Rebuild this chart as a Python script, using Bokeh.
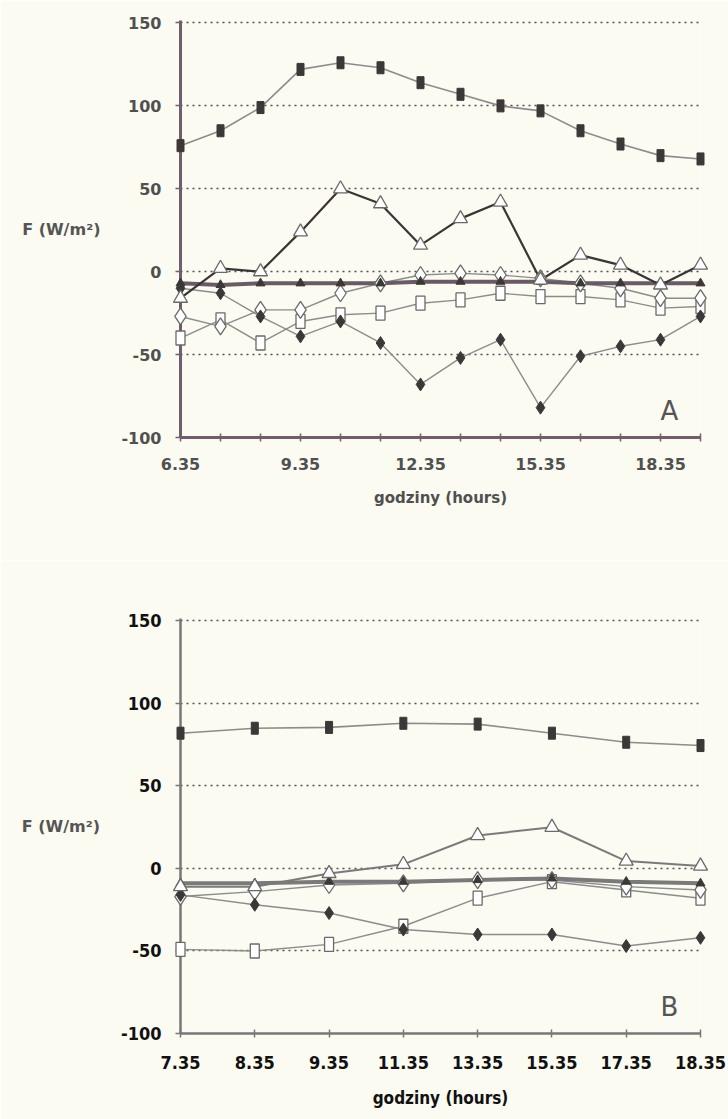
from bokeh.plotting import figure
from bokeh.models import FixedTicker, Range1d, Label
from bokeh.layouts import column
from bokeh.embed import file_html
from bokeh.resources import INLINE

# ---------------- data ----------------
hours_a = ["6.35", "7.35", "8.35", "9.35", "10.35", "11.35", "12.35",
           "13.35", "14.35", "15.35", "16.35", "17.35", "18.35", "19.35"]
shown_a = ["6.35", "9.35", "12.35", "15.35", "18.35"]

a_sq_filled = [76, 85, 99, 122, 126, 123, 114, 107, 100, 97, 85, 77, 70, 68]
a_tri_open = [-16, 2, 0, 24, 50, 41, 16, 32, 42, -5, 10, 4, -8, 4]
a_tri_filled = [-7, -8, -7, -7, -7, -7, -6, -6, -6, -6, -7, -7, -7, -7]
a_dia_open = [-27, -33, -23, -23, -13, -7, -2, -1, -2, -4, -7, -10, -16, -16]
a_sq_open = [-40, -29, -43, -30, -26, -25, -19, -17, -13, -15, -15, -17, -22, -21]
a_dia_filled = [-10, -13, -27, -39, -30, -43, -68, -52, -41, -82, -51, -45, -41, -27]

hours_b = ["7.35", "8.35", "9.35", "11.35", "13.35", "15.35", "17.35", "18.35"]
b_sq_filled = [82, 85, 85.5, 88, 87.5, 82, 76.5, 74.5]
b_tri_open = [-11, -11, -3, 2.5, 20, 25, 4.5, 1.5]
b_tri_filled = [-9, -9, -8, -8, -7, -6, -8, -9]
b_dia_open = [-17, -14, -10, -9, -7, -7, -11, -13]
b_sq_open = [-49, -50, -46, -35, -18, -8, -13, -18]
b_dia_filled = [-16, -22, -27, -37, -40, -40, -47, -42]

y_ticks = [-100, -50, 0, 50, 100, 150]
grid_vals = [-50, 0, 50, 100, 150]

BG = "#fbfbf1"
DARK = "#3c3838"
GRAY = "#8c8c8c"


def make_fig(hours, shown, series, height, top, bottom, axis_col, axis_w,
             tick_font, tick_size, tick_style, tick_col, title_font,
             title_size, title_style, title_col, thick_col, tri_line_col,
             tri_line_w, letter, tick_standoff, title_standoff):
    n = len(hours)
    xs = list(range(n))
    p = figure(width=728, height=height, output_backend="svg",
               toolbar_location=None, x_range=Range1d(0, n - 1),
               y_range=Range1d(-100, 151.5),
               min_border_left=180, min_border_right=28,
               min_border_top=top, min_border_bottom=bottom,
               background_fill_color=BG, border_fill_color=BG)
    p.outline_line_color = None
    p.xgrid.visible = False
    p.ygrid.ticker = FixedTicker(ticks=grid_vals)
    p.ygrid.grid_line_color = "#5e4a5a"
    p.ygrid.grid_line_dash = "2 4"
    p.ygrid.grid_line_width = 1.6

    p.yaxis.ticker = FixedTicker(ticks=y_ticks)
    p.yaxis.major_label_overrides = {v: str(v) for v in y_ticks}
    p.xaxis.ticker = FixedTicker(ticks=xs)
    p.xaxis.major_label_overrides = {
        i: (h if h in shown else "") for i, h in enumerate(hours)}
    for ax in (p.xaxis, p.yaxis):
        ax.axis_line_color = axis_col
        ax.axis_line_width = axis_w
        ax.major_tick_line_color = axis_col
        ax.major_tick_line_width = 1.5
        ax.minor_tick_line_color = None
        ax.major_label_text_font = tick_font
        ax.major_label_text_font_size = tick_size
        ax.major_label_text_font_style = tick_style
        ax.major_label_text_color = tick_col
    p.yaxis.major_tick_in = 0
    p.yaxis.major_tick_out = 5
    p.yaxis.major_label_standoff = 14
    p.yaxis.axis_label = "F (W/m\u00b2)"
    p.yaxis.axis_label_orientation = "horizontal"
    p.yaxis.axis_label_text_font = "DejaVu Sans"
    p.yaxis.axis_label_text_font_size = "16px"
    p.yaxis.axis_label_text_font_style = "bold"
    p.yaxis.axis_label_text_color = "#555555"
    p.yaxis.axis_label_standoff = 18
    p.xaxis.major_tick_in = 4
    p.xaxis.major_tick_out = 4
    p.xaxis.major_label_standoff = tick_standoff
    p.xaxis.axis_label = "godziny (hours)"
    p.xaxis.axis_label_text_font = title_font
    p.xaxis.axis_label_text_font_size = title_size
    p.xaxis.axis_label_text_font_style = title_style
    p.xaxis.axis_label_text_color = title_col
    p.xaxis.axis_label_standoff = title_standoff

    sq_f, tri_o, tri_f, dia_o, sq_o, dia_f = series
    rs = []
    # lines
    rs.append(p.line(xs, sq_f, line_color=GRAY, line_width=1.6))
    rs.append(p.line(xs, sq_o, line_color=GRAY, line_width=1.4))
    rs.append(p.line(xs, dia_o, line_color=GRAY, line_width=1.4))
    rs.append(p.line(xs, dia_f, line_color=GRAY, line_width=1.4))
    rs.append(p.line(xs, tri_f, line_color=thick_col, line_width=4))
    rs.append(p.line(xs, tri_o, line_color=tri_line_col, line_width=tri_line_w))
    # markers
    rs.append(p.rect(xs, sq_f, width=7, height=12, width_units="screen",
                     height_units="screen", fill_color=DARK, line_color=DARK))
    rs.append(p.rect(xs, sq_o, width=9, height=14, width_units="screen",
                     height_units="screen", fill_color="white",
                     line_color="#6a6a6a", line_width=1.3))
    rs.append(p.scatter(xs, dia_o, marker="diamond", size=17,
                        fill_color="white", line_color="#6a6a6a", line_width=1.3))
    rs.append(p.scatter(xs, dia_f, marker="diamond", size=13,
                        fill_color=DARK, line_color=DARK))
    rs.append(p.scatter(xs, tri_f, marker="triangle", size=9,
                        fill_color=DARK, line_color=DARK))
    rs.append(p.scatter(xs, tri_o, marker="triangle", size=14,
                        fill_color="white", line_color="#6a6a6a", line_width=1.3))
    for r in rs:
        r.level = "overlay"

    p.add_layout(Label(x=(n - 1) * 0.94, y=-84, text=letter,
                       text_font="DejaVu Sans", text_font_size="26px",
                       text_color="#555555", text_baseline="middle",
                       text_align="center"))
    return p


p1 = make_fig(hours_a, shown_a,
              (a_sq_filled, a_tri_open, a_tri_filled, a_dia_open, a_sq_open,
               a_dia_filled),
              560, 20, 123, "#705e6c", 3,
              "DejaVu Sans", "16px", "bold", "#505050",
              "DejaVu Sans", "15px", "bold", "#505050",
              "#6a5a66", "#3a3434", 2.2, "A", 16, 16)

p2 = make_fig(hours_b, hours_b,
              (b_sq_filled, b_tri_open, b_tri_filled, b_dia_open, b_sq_open,
               b_dia_filled),
              559, 58, 86, "#777777", 2.5,
              "DejaVu Sans Condensed", "18px", "bold", "#111111",
              "DejaVu Sans Condensed", "17px", "bold", "#111111",
              "#7a7a7a", "#7a7a7a", 2, "B", 18, 16)

layout = column(p1, p2, spacing=0)
open("out.html", "w").write(file_html(layout, INLINE))
